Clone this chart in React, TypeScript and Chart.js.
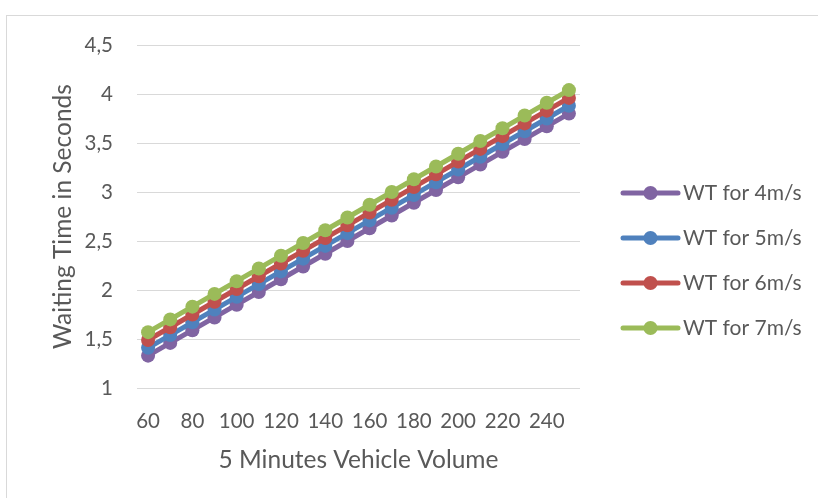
import React, { useEffect, useRef } from "react";
import { Chart, registerables } from "chart.js";

Chart.register(...registerables);

const categories = ["60","70","80","90","100","110","120","130","140","150","160","170","180","190","200","210","220","230","240","250"];
const wt4 = [1.33,1.46,1.59,1.72,1.85,1.98,2.11,2.24,2.37,2.50,2.63,2.76,2.89,3.02,3.15,3.28,3.41,3.54,3.67,3.80];
const wt5 = [1.41,1.54,1.67,1.80,1.93,2.06,2.19,2.32,2.45,2.58,2.71,2.84,2.97,3.10,3.23,3.36,3.49,3.62,3.75,3.88];
const wt6 = [1.49,1.62,1.75,1.88,2.01,2.14,2.27,2.40,2.53,2.66,2.79,2.92,3.05,3.18,3.31,3.44,3.57,3.70,3.83,3.96];
const wt7 = [1.57,1.70,1.83,1.96,2.09,2.22,2.35,2.48,2.61,2.74,2.87,3.00,3.13,3.26,3.39,3.52,3.65,3.78,3.91,4.04];
const seriesNames = ["WT for 4m/s", "WT for 5m/s", "WT for 6m/s", "WT for 7m/s"];
const seriesColors = ["#8064A2", "#4F81BD", "#C0504D", "#9BBB59"];
const yTickValues = [1, 1.5, 2, 2.5, 3, 3.5, 4, 4.5];
const xTitle = "5 Minutes Vehicle Volume";
const yTitle = "Waiting Time in Seconds";

const FONT = "Lato, 'Open Sans', sans-serif";
const TEXT = "#595959";

const legendPlugin = {
  id: "excelLegend",
  afterDraw(chart: any) {
    const ctx = chart.ctx;
    const x0 = 623, x1 = 678, tx = 683;
    const ys = [193, 238, 283, 328];
    ctx.save();
    chart.data.datasets.forEach((ds: any, i: number) => {
      const y = ys[i];
      ctx.strokeStyle = ds.borderColor;
      ctx.lineWidth = 5;
      ctx.lineCap = "round";
      ctx.beginPath();
      ctx.moveTo(x0, y);
      ctx.lineTo(x1, y);
      ctx.stroke();
      ctx.fillStyle = ds.borderColor;
      ctx.beginPath();
      ctx.arc((x0 + x1) / 2, y, 7, 0, Math.PI * 2);
      ctx.fill();
      ctx.fillStyle = TEXT;
      ctx.font = `21px ${FONT}`;
      ctx.textAlign = "left";
      ctx.textBaseline = "middle";
      ctx.fillText(ds.label, tx, y);
    });
    ctx.restore();
  },
};

export default function App() {
  const ref = useRef<HTMLCanvasElement | null>(null);
  useEffect(() => {
    if (!ref.current) return;
    const allSeries = [wt4, wt5, wt6, wt7];
    const chart = new Chart(ref.current, {
      type: "line",
      data: {
        labels: categories,
        datasets: allSeries.map((d, i) => ({
          label: seriesNames[i],
          data: d,
          borderColor: seriesColors[i],
          backgroundColor: seriesColors[i],
          pointBackgroundColor: seriesColors[i],
          pointBorderColor: seriesColors[i],
          borderWidth: 5,
          pointRadius: 7,
          pointBorderWidth: 0,
          tension: 0,
          order: 4 - i,
        })),
      },
      options: {
        animation: false,
        responsive: false,
        maintainAspectRatio: false,
        layout: { padding: { left: 30, right: 238, top: 45, bottom: 0 } },
        plugins: { legend: { display: false }, tooltip: { enabled: false } },
        scales: {
          x: {
            offset: true,
            grid: { display: false, drawTicks: false },
            border: { display: false },
            ticks: {
              color: TEXT,
              font: { family: FONT, size: 20.5 },
              padding: 21,
              maxRotation: 0,
              autoSkip: false,
              callback: (_v: any, i: number) => (i % 2 === 0 ? categories[i] : ""),
            },
            title: {
              display: true,
              text: xTitle,
              color: TEXT,
              font: { family: FONT, size: 24.5 },
              padding: { top: 0, bottom: 23 },
            },
            afterFit: (s: any) => { s.height = 110; },
          },
          y: {
            min: 1,
            max: 4.5,
            grid: { color: "#d9d9d9", lineWidth: 1, drawTicks: false },
            border: { display: false },
            afterBuildTicks: (s: any) => { s.ticks = yTickValues.map((v) => ({ value: v })); },
            ticks: {
              color: TEXT,
              font: { family: FONT, size: 20.5 },
              padding: 24,
              callback: (v: any) => String(v).replace(".", ","),
            },
            title: {
              display: true,
              text: yTitle,
              color: TEXT,
              font: { family: FONT, size: 24.5 },
              padding: { top: 18, bottom: 0 },
            },
            afterFit: (s: any) => { s.width = 107; },
          },
        },
      },
      plugins: [legendPlugin],
    });
    return () => chart.destroy();
  }, []);
  return (
    <div style={{ position: "fixed", left: 0, top: 0, width: 818, height: 498, overflow: "hidden", background: "#fff" }}>
      <div style={{ position: "absolute", left: 6, top: 15, width: 900, height: 600, border: "1px solid #d9d9d9", boxSizing: "border-box" }} />
      <canvas ref={ref} width={818} height={498} style={{ position: "absolute", left: 0, top: 0, width: 818, height: 498 }} />
    </div>
  );
}
